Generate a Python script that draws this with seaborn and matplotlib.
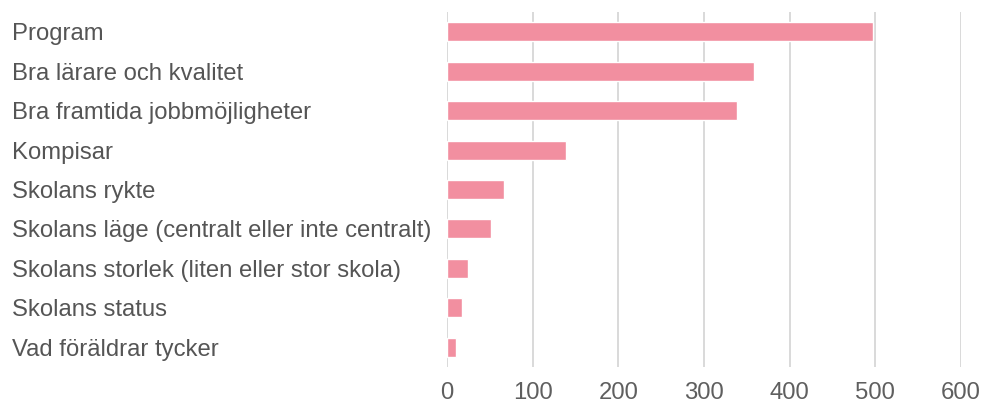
import matplotlib
matplotlib.use("Agg")
import matplotlib.pyplot as plt
import seaborn as sns
import pandas as pd

categories = [
    "Program",
    "Bra lärare och kvalitet",
    "Bra framtida jobbmöjligheter",
    "Kompisar",
    "Skolans rykte",
    "Skolans läge (centralt eller inte centralt)",
    "Skolans storlek (liten eller stor skola)",
    "Skolans status",
    "Vad föräldrar tycker",
]
values = [497, 358, 339, 139, 67, 51, 25, 18, 10]
xticks = [0, 100, 200, 300, 400, 500, 600]

sns.set_theme(style="white")
plt.rcParams["font.family"] = ["Liberation Sans", "DejaVu Sans"]

df = pd.DataFrame({"cat": categories, "val": values})

fig = plt.figure(figsize=(9.81, 4.05), dpi=100)
ax = fig.add_axes([447 / 981, 1 - 367 / 405, (961 - 447) / 981, (367 - 12) / 405])

sns.barplot(data=df, x="val", y="cat", orient="h", color="#f28fa0",
            saturation=1, width=0.48, ax=ax, zorder=3)

ax.set_xlim(0, 600)
ax.set_ylim(len(categories) - 0.5, -0.5)
ax.set_xticks(xticks)
ax.set_xticklabels([str(t) for t in xticks])
ax.xaxis.grid(True, color="#d9d9d9", linewidth=1.4, zorder=0)
ax.set_axisbelow(True)
for s in ax.spines.values():
    s.set_visible(False)
ax.set_xlabel("")
ax.set_ylabel("")

ax.tick_params(axis="x", length=0, pad=11, labelsize=17.2, labelcolor="#5f5f5f")
ax.tick_params(axis="y", length=0, pad=(447 - 12) * 0.72, labelsize=17.2, labelcolor="#555555")
for lab in ax.get_yticklabels():
    lab.set_horizontalalignment("left")

fig.savefig("out.png", dpi=100, facecolor="white")
